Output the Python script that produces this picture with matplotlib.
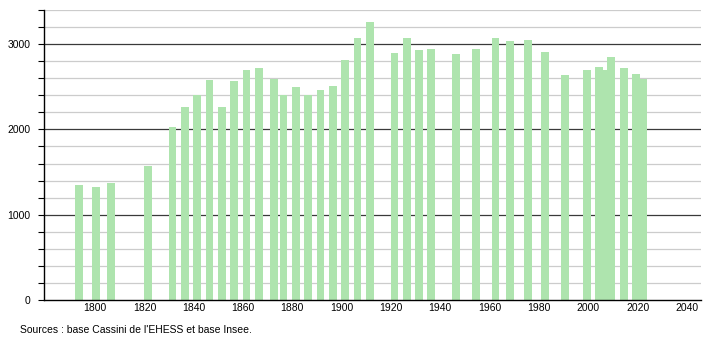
import matplotlib.pyplot as plt
import numpy as np

plt.rcParams['font.family'] = ['Liberation Sans', 'DejaVu Sans']

# census years and population
years = [1793, 1800, 1806, 1821, 1831, 1836, 1841, 1846, 1851, 1856,
         1861, 1866, 1872, 1876, 1881, 1886, 1891, 1896, 1901, 1906,
         1911, 1921, 1926, 1931, 1936, 1946, 1954, 1962, 1968, 1975,
         1982, 1990, 1999, 2004, 2007, 2009, 2014, 2019, 2022]
population = [1353, 1322, 1369, 1576, 2027, 2267, 2400, 2576, 2267, 2565,
              2694, 2725, 2596, 2400, 2498, 2400, 2463, 2506, 2812, 3067,
              3263, 2894, 3071, 2933, 2941, 2886, 2941, 3071, 3035, 3047,
              2910, 2635, 2694, 2733, 2702, 2850, 2718, 2647, 2588]
x_ticks = [1800, 1820, 1840, 1860, 1880, 1900, 1920, 1940, 1960, 1980, 2000, 2020, 2040]
y_ticks = [0, 1000, 2000, 3000]

fig = plt.figure(figsize=(7.1, 3.4), dpi=100)
ax = fig.add_axes([0.0624, 0.1176, 0.9245, 0.853])

# grid lines: light every 200, dark every 1000
for v in np.arange(200, 3401, 200):
    if v % 1000 == 0:
        ax.axhline(v, color='#3a3a3a', lw=0.9, zorder=1)
    else:
        ax.axhline(v, color='#cccccc', lw=0.9, zorder=1)

# bars sit a little right of the year in the original
ax.bar(np.array(years) + 0.4, population, width=3.2, color='#aee4ae', zorder=2)

ax.set_xlim(1779.4, 2045.6)
ax.set_ylim(0, 3400)
ax.set_xticks(x_ticks)
ax.set_yticks(y_ticks)
ax.set_yticks(np.arange(0, 3401, 200), minor=True)
ax.tick_params(axis='x', length=0, labelsize=7.5, pad=2.5)
ax.tick_params(axis='y', which='both', length=4, width=0.8, labelsize=7.5, pad=6)

for s in ['top', 'right']:
    ax.spines[s].set_visible(False)
ax.spines['left'].set_linewidth(1)
ax.spines['bottom'].set_linewidth(1)

fig.text(0.028, 0.03, "Sources : base Cassini de l'EHESS et base Insee.", fontsize=7.5,
         va='center')

fig.savefig('out.png', dpi=100)
